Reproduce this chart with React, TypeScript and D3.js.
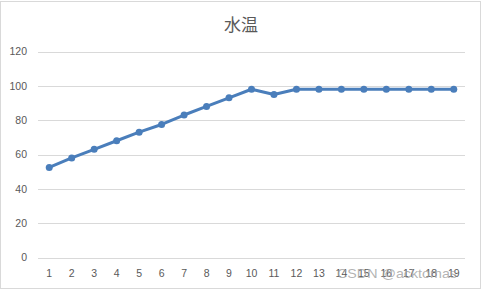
import React from "react";
import * as d3 from "d3";

const categories: string[] = Array.from({ length: 19 }, (_, i) => String(i + 1));
const temps: number[] = [52.5, 58, 63, 68, 73, 77.5, 83, 88, 93, 98, 95, 98, 98, 98, 98, 98, 98, 98, 98];
const yTicks: number[] = [0, 20, 40, 60, 80, 100, 120];
const title = "水温";

const W = 482;
const H = 290;
const left = 38;
const right = 465;
const top = 51.5;
const bottom = 257.5;

export default function App() {
  const x = d3.scaleBand<string>().domain(categories).range([left, right]);
  const y = d3.scaleLinear().domain([0, 120]).range([bottom, top]);
  const line = d3
    .line<number>()
    .x((_, i) => (x(categories[i]) as number) + x.bandwidth() / 2)
    .y((d) => y(d));
  const font = "'Liberation Sans', Arial, sans-serif";
  return (
    <svg
      width={W}
      height={H}
      style={{ position: "absolute", left: 0, top: 0, background: "#fff" }}
    >
      <rect x={0.5} y={1.5} width={480} height={287} fill="#fff" stroke="#d9d9d9" />
      <text
        x={241}
        y={31}
        textAnchor="middle"
        fontSize={17}
        fill="#595959"
        fontFamily="'Noto Sans CJK JP', sans-serif"
      >
        {title}
      </text>
      {yTicks.map((t) => (
        <g key={t}>
          <line
            x1={left}
            x2={right}
            y1={Math.round(y(t)) + 0.5}
            y2={Math.round(y(t)) + 0.5}
            stroke="#d9d9d9"
            strokeWidth={1}
          />
          <text
            x={27}
            y={y(t) + 3.8}
            textAnchor="end"
            fontSize={10.5}
            fill="#595959"
            fontFamily={font}
          >
            {t}
          </text>
        </g>
      ))}
      {categories.map((c) => (
        <text
          key={c}
          x={(x(c) as number) + x.bandwidth() / 2}
          y={276.5}
          textAnchor="middle"
          fontSize={10.5}
          fill="#595959"
          fontFamily={font}
        >
          {c}
        </text>
      ))}
      <path
        d={line(temps) || ""}
        fill="none"
        stroke="#4a7ebb"
        strokeWidth={3}
        strokeLinejoin="round"
        strokeLinecap="round"
      />
      {temps.map((v, i) => (
        <circle
          key={i}
          cx={(x(categories[i]) as number) + x.bandwidth() / 2}
          cy={y(v)}
          r={3.5}
          fill="#4a7ebb"
        />
      ))}
      <text
        x={337}
        y={277.5}
        fontSize={13}
        textLength={120}
        lengthAdjust="spacingAndGlyphs"
        fill="#a0a0a0"
        fillOpacity={0.8}
        fontFamily={font}
      >
        CSDN @acktomas
      </text>
    </svg>
  );
}
